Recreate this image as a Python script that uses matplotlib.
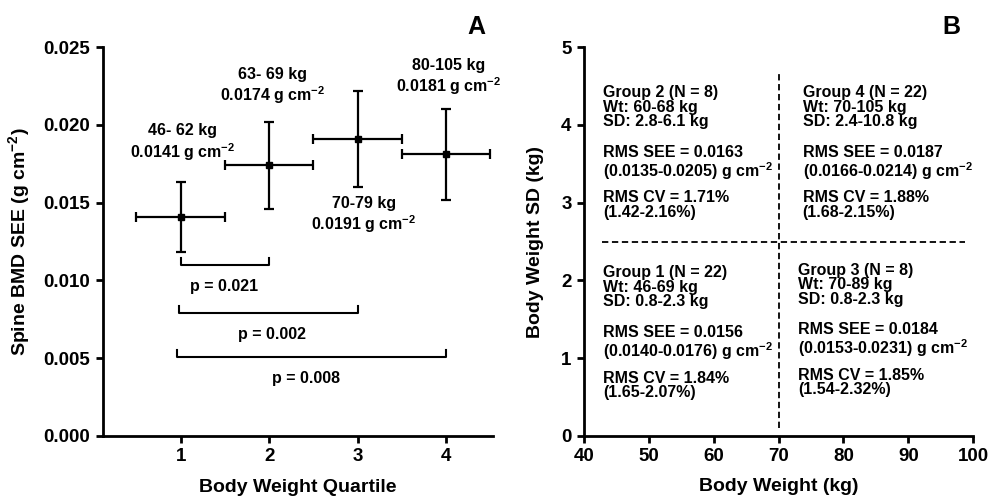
import matplotlib
matplotlib.use("Agg")
import matplotlib.pyplot as plt

plt.rcParams['font.family'] = ['Liberation Sans', 'DejaVu Sans']
plt.rcParams['font.weight'] = 'bold'
plt.rcParams['mathtext.fontset'] = 'custom'
plt.rcParams['mathtext.rm'] = 'Liberation Sans:bold'
plt.rcParams['mathtext.bf'] = 'Liberation Sans:bold'
plt.rcParams['mathtext.default'] = 'bf'

# panel A data
quartiles = [1, 2, 3, 4]
see_mean = [0.0141, 0.0174, 0.0191, 0.0181]
see_err = [0.00225, 0.0028, 0.0031, 0.0029]
x_err = [0.5, 0.5, 0.5, 0.5]
wt_ranges = ["46- 62 kg", "63- 69 kg", "70-79 kg", "80-105 kg"]
label_pos = [(1.02, 0.01883), (2.04, 0.02249), (3.07, 0.01420), (4.03, 0.02307)]

# significance brackets: (from, to, height, p label)
brackets = [(1.0, 2.0, 0.0110, "p = 0.021"),
            (0.98, 3.0, 0.0079, "p = 0.002"),
            (0.96, 4.0, 0.0051, "p = 0.008")]
p_text_pos = [(1.49, 0.0096), (2.03, 0.00655), (2.42, 0.0037)]

# panel B groups
group_names = ["Group 2 (N = 8)", "Group 4 (N = 22)", "Group 1 (N = 22)", "Group 3 (N = 8)"]
wt_txt = ["Wt: 60-68 kg", "Wt: 70-105 kg", "Wt: 46-69 kg", "Wt: 70-89 kg"]
sd_txt = ["SD: 2.8-6.1 kg", "SD: 2.4-10.8 kg", "SD: 0.8-2.3 kg", "SD: 0.8-2.3 kg"]
rms_see = ["0.0163", "0.0187", "0.0156", "0.0184"]
see_ci = ["0.0135-0.0205", "0.0166-0.0214", "0.0140-0.0176", "0.0153-0.0231"]
rms_cv = ["1.71", "1.88", "1.84", "1.85"]
cv_ci = ["1.42-2.16", "1.68-2.15", "1.65-2.07", "1.54-2.32"]
block_x = [43.0, 73.7, 43.0, 73.0]
block_y = [4.227, 4.227, 1.912, 1.945]  # centre of the first sub-block

fig = plt.figure(figsize=(9.89, 4.96), dpi=100)
axA = fig.add_axes([0.104, 0.121, 0.3945, 0.784])
axB = fig.add_axes([0.5905, 0.121, 0.3935, 0.784])

for ax in (axA, axB):
    ax.spines['top'].set_visible(False)
    ax.spines['right'].set_visible(False)
    ax.spines['left'].set_linewidth(2.0)
    ax.spines['bottom'].set_linewidth(2.0)
    ax.tick_params(width=2.0, length=5, labelsize=13.5, pad=4)

# ---- Panel A
axA.errorbar(quartiles, see_mean, yerr=see_err, xerr=x_err, fmt='s', color='black',
             ms=5, elinewidth=1.6, capsize=3.4, capthick=1.6)
for i in range(4):
    txt = wt_ranges[i] + "\n" + "%.4f g cm$^{-2}$" % see_mean[i]
    axA.text(label_pos[i][0], label_pos[i][1], txt, ha='center', va='center',
             fontsize=11.5, fontweight='bold', linespacing=1.15)
for (x1, x2, h, lab), (tx, ty) in zip(brackets, p_text_pos):
    axA.plot([x1, x1, x2, x2], [h + 0.00045, h, h, h + 0.00045], color='black', lw=1.5)
    axA.text(tx, ty, lab, ha='center', va='center', fontsize=11.5, fontweight='bold')

axA.set_xlim(0.12, 4.53)
axA.set_ylim(0, 0.025)
axA.set_xticks(quartiles)
axA.set_yticks([0, 0.005, 0.010, 0.015, 0.020, 0.025])
axA.set_yticklabels(["0.000", "0.005", "0.010", "0.015", "0.020", "0.025"])
axA.set_xlabel("Body Weight Quartile", fontsize=14, fontweight='bold', labelpad=10)
axA.set_ylabel("Spine BMD SEE (g cm$^{-2}$)", fontsize=14, fontweight='bold', labelpad=8)
fig.text(0.482, 0.945, "A", fontsize=18, fontweight='bold', ha='center', va='center')

# ---- Panel B
axB.plot([70, 70], [0.1, 4.65], color='black', lw=1.3, ls=(0, (3.5, 2)))
axB.plot([42.7, 98.7], [2.5, 2.5], color='black', lw=1.3, ls=(0, (3.5, 2)))
for i in range(4):
    x0, y0 = block_x[i], block_y[i]
    axB.text(x0, y0, group_names[i] + "\n" + wt_txt[i] + "\n" + sd_txt[i],
             ha='left', va='center', fontsize=11.5, fontweight='bold', linespacing=0.96)
    axB.text(x0, y0 - 0.72, "RMS SEE = " + rms_see[i] + "\n(" + see_ci[i] + ") g cm$^{-2}$",
             ha='left', va='center', fontsize=11.5, fontweight='bold', linespacing=1.0)
    axB.text(x0, y0 - 1.26, "RMS CV = " + rms_cv[i] + "%\n(" + cv_ci[i] + "%)",
             ha='left', va='center', fontsize=11.5, fontweight='bold', linespacing=0.96)

axB.set_xlim(40, 100)
axB.set_ylim(0, 5)
axB.set_xticks([40, 50, 60, 70, 80, 90, 100])
axB.set_yticks([0, 1, 2, 3, 4, 5])
axB.set_xlabel("Body Weight (kg)", fontsize=14, fontweight='bold', labelpad=9)
axB.set_ylabel("Body Weight SD (kg)", fontsize=14, fontweight='bold', labelpad=12)
fig.text(0.962, 0.945, "B", fontsize=18, fontweight='bold', ha='center', va='center')

fig.savefig("out.png", dpi=100)
